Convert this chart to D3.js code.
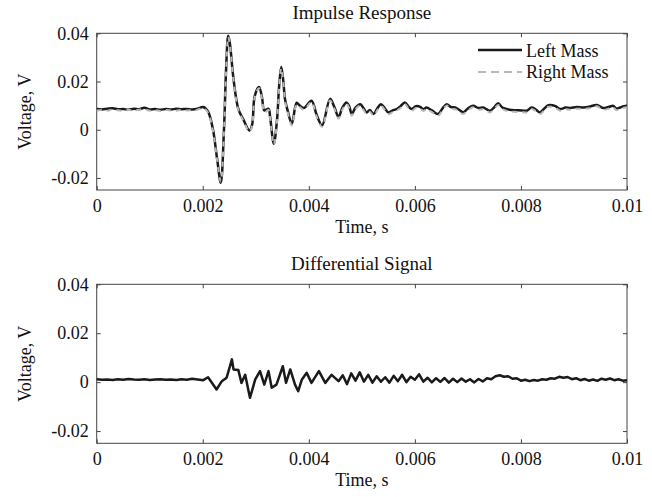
<!DOCTYPE html>
<html>
<head>
<meta charset="utf-8">
<script src="https://cdn.jsdelivr.net/npm/d3@7"></script>
<style>
  body { margin: 0; background: #fff; }
  svg text { font-family: "Liberation Serif", "Times New Roman", serif; fill: #111; }
</style>
</head>
<body>
<div class="chart"></div>
<script>
// time axis values, seconds
const timeTop = [
  0, 0.0001, 0.0002, 0.0003, 0.0004, 0.0005, 0.0006, 0.0007, 0.0008, 0.0009,
  0.001, 0.0011, 0.0012, 0.0013, 0.0014, 0.0015, 0.0016, 0.0017, 0.0018, 0.0019,
  0.00201, 0.0021, 0.00219, 0.00227, 0.00234, 0.0024, 0.00244, 0.00248, 0.00251, 0.00258,
  0.00267, 0.00276, 0.00288, 0.00293, 0.00298, 0.00306, 0.00312, 0.00316, 0.00324, 0.00327,
  0.00334, 0.0034, 0.00344, 0.00348, 0.00352, 0.00355, 0.0036, 0.00368, 0.00377, 0.00383,
  0.00391, 0.00405, 0.00415, 0.00425,
  0.0044, 0.00448, 0.00456, 0.00463, 0.00471, 0.00476, 0.00481, 0.00488, 0.00497, 0.00503,
  0.00509, 0.00515, 0.00522, 0.00529, 0.00536, 0.00543, 0.0055, 0.00558, 0.00566, 0.00573,
  0.00581, 0.00588, 0.00594, 0.00602, 0.0061, 0.00616, 0.00622, 0.00632, 0.00644, 0.00652,
  0.0066, 0.00668, 0.00676, 0.00684, 0.00691, 0.007, 0.0071, 0.0072, 0.00729, 0.00736,
  0.00742, 0.0075, 0.00757, 0.00765, 0.00773, 0.00782, 0.00792, 0.00802, 0.00811, 0.0082,
  0.00828, 0.00836, 0.00844, 0.00852, 0.00864, 0.00874, 0.00884, 0.00893, 0.00905, 0.00918,
  0.0093, 0.00943, 0.00955, 0.00965, 0.00974, 0.0098, 0.00987, 0.00994, 0.01
];
const leftMass = [
  0.0086, 0.0084, 0.0087, 0.0089, 0.0085, 0.0086, 0.0083, 0.0087, 0.0085, 0.0091,
  0.0084, 0.0086, 0.0083, 0.0086, 0.0084, 0.0087, 0.0085, 0.0086, 0.0084, 0.0087,
  0.0094, 0.0075, 0.0004, -0.012, -0.022, 0.0, 0.025, 0.039, 0.036, 0.021,
  0.0087, 0.0045, -0.0003, 0.002, 0.014, 0.0177, 0.013, 0.008, 0.0087, 0.0053,
  -0.0058, 0.004, 0.018, 0.026, 0.02, 0.0128, 0.008, 0.0025, 0.0112, 0.010,
  0.009, 0.012, 0.006, 0.0018,
  0.0128, 0.0095, 0.0053, 0.0090, 0.0113, 0.0098, 0.0065, 0.0092, 0.0106, 0.0090,
  0.0072, 0.0082, 0.0065, 0.0088, 0.0106, 0.0090, 0.0072, 0.0080, 0.0086, 0.0098,
  0.0113, 0.0096, 0.0086, 0.0098, 0.0095, 0.0085, 0.0092, 0.0080, 0.0065, 0.0088,
  0.0106, 0.0094, 0.0092, 0.0082, 0.0072, 0.0088, 0.0099, 0.0090, 0.0092, 0.0084,
  0.0079, 0.0094, 0.0110, 0.0092, 0.0086, 0.0082, 0.0081, 0.0080, 0.0079, 0.0092,
  0.0084, 0.0072, 0.0088, 0.0102, 0.0099, 0.0086, 0.0092, 0.0090, 0.0094, 0.0092,
  0.0096, 0.0103, 0.0090, 0.0094, 0.0099, 0.0088, 0.0092, 0.0098, 0.0099
];
const rightMass = [
  0.0080, 0.0082, 0.0079, 0.0084, 0.0081, 0.0078, 0.0082, 0.0080, 0.0083, 0.0085,
  0.0079, 0.0081, 0.0078, 0.0082, 0.0080, 0.0079, 0.0082, 0.0080, 0.0081, 0.0083,
  0.0090, 0.0070, -0.0002, -0.0125, -0.0215, -0.0005, 0.024, 0.0385, 0.0355, 0.0205,
  0.0082, 0.0040, -0.0008, 0.0015, 0.0135, 0.0172, 0.0125, 0.0072, 0.0082, 0.0047,
  -0.0062, 0.0035, 0.0172, 0.0255, 0.0195, 0.0122, 0.0074, 0.0018, 0.0106, 0.0094,
  0.0083, 0.0115, 0.0053, 0.0012,
  0.0121, 0.0088, 0.0046, 0.0082, 0.0107, 0.0090, 0.0058, 0.0085, 0.0100, 0.0082,
  0.0065, 0.0075, 0.0058, 0.0080, 0.0099, 0.0083, 0.0064, 0.0073, 0.0080, 0.0090,
  0.0106, 0.0089, 0.0079, 0.0090, 0.0088, 0.0078, 0.0085, 0.0073, 0.0058, 0.0081,
  0.0100, 0.0087, 0.0085, 0.0075, 0.0065, 0.0080, 0.0093, 0.0083, 0.0085, 0.0077,
  0.0072, 0.0087, 0.0103, 0.0085, 0.0079, 0.0075, 0.0074, 0.0073, 0.0072, 0.0086,
  0.0077, 0.0065, 0.0081, 0.0095, 0.0092, 0.0079, 0.0085, 0.0083, 0.0087, 0.0086,
  0.0089, 0.0097, 0.0083, 0.0087, 0.0093, 0.0081, 0.0086, 0.0091, 0.0093
];

const timeDiff = [
  0, 0.0001, 0.0002, 0.0003, 0.0004, 0.0005, 0.0006, 0.0007, 0.0008, 0.0009,
  0.001, 0.0011, 0.0012, 0.0013, 0.0014, 0.0015, 0.0016, 0.0017,
  0.0018, 0.00201, 0.0021, 0.00226, 0.00236, 0.00245, 0.00255, 0.00258, 0.00267, 0.00273,
  0.0028, 0.00289, 0.00299, 0.00308, 0.00316, 0.00324, 0.0033, 0.00339, 0.00351, 0.00357,
  0.00365, 0.00374, 0.0038, 0.00387, 0.00396, 0.00405, 0.00419, 0.00431, 0.00443,
  0.00456, 0.00464, 0.00472, 0.0048, 0.00488, 0.00496, 0.00504, 0.00512, 0.0052, 0.00528,
  0.00536, 0.00544, 0.00552, 0.0056, 0.00568, 0.00576, 0.00584, 0.00592, 0.006, 0.00608,
  0.00616, 0.00624, 0.00632, 0.0064, 0.00648, 0.00656, 0.00664, 0.00672, 0.0068, 0.00688,
  0.00696, 0.00704, 0.00712, 0.0072, 0.00728, 0.00736, 0.00744, 0.00752, 0.0076, 0.00768,
  0.00776, 0.00784, 0.00792, 0.008, 0.00808, 0.00816, 0.00824, 0.00832, 0.0084, 0.00848,
  0.00856, 0.00864, 0.00872, 0.0088, 0.00888, 0.00896, 0.00904, 0.00912, 0.0092, 0.00928,
  0.00936, 0.00944, 0.00952, 0.0096, 0.00968, 0.00976, 0.00984, 0.00992, 0.01
];
const diffSignal = [
  0.0012, 0.0010, 0.0011, 0.0009, 0.0012, 0.0010, 0.0013, 0.0011, 0.0010, 0.0012,
  0.0009, 0.0011, 0.0012, 0.0010, 0.0011, 0.0009, 0.0012, 0.0010,
  0.0014, 0.0008, 0.002, -0.003, 0.0004, 0.0018, 0.0093, 0.0052, 0.005, -0.0003,
  0.003, -0.0064, 0.0011, 0.0045, -0.001, 0.0045, -0.0023, -0.001, 0.0065, -0.0003,
  0.0052, -0.001, -0.0037, 0.0011, 0.0038, -0.0003, 0.0045, -0.0003, 0.003,
  0.0004, 0.0028, -0.0008, 0.0036, 0.0006, 0.0040, 0.0002, 0.0030, -0.0002, 0.0024,
  0.0002, 0.0020, -0.0002, 0.0026, 0.0004, 0.0030, 0.0000, 0.0022, 0.0010, 0.0032,
  0.0002, 0.0018, -0.0001, 0.0016, 0.0001, 0.0017, -0.0002, 0.0014, 0.0000, 0.0015,
  0.0002, 0.0012, -0.0001, 0.0013, 0.0003, 0.0016, 0.0012, 0.0024, 0.0028, 0.0022,
  0.0024, 0.0014, 0.0016, 0.0006, 0.0010, 0.0004, 0.0009, 0.0006, 0.0012, 0.0010,
  0.0016, 0.0014, 0.0022, 0.0018, 0.0021, 0.0012, 0.0016, 0.0008, 0.0013, 0.0006,
  0.0011, 0.0005, 0.0014, 0.0010, 0.0015, 0.0008, 0.0012, 0.0006, 0.0008
];

const xTicks = [0, 0.002, 0.004, 0.006, 0.008, 0.01];
const xTickLabels = ['0', '0.002', '0.004', '0.006', '0.008', '0.01'];
const yTicks = [-0.02, 0, 0.02, 0.04];
const yTickLabels = ['-0.02', '0', '0.02', '0.04'];

const width = 652;
const height = 497;
const plotLeft = 96.7;
const plotRight = 627;

const svg = d3.select('.chart')
  .append('svg')
  .attr('width', width)
  .attr('height', height);

const x = d3.scaleLinear().domain([0, 0.01]).range([plotLeft, plotRight]);

const drawPanel = (top, bottom, title) => {
  const y = d3.scaleLinear().domain([-0.025, 0.04]).range([bottom, top]);
  const g = svg.append('g');

  const xBottom = d3.axisBottom(x).tickValues(xTicks)
    .tickFormat((d, i) => xTickLabels[i]).tickSize(-4).tickPadding(9);
  const xTop = d3.axisTop(x).tickValues(xTicks).tickFormat('').tickSize(-4);
  const yLeft = d3.axisLeft(y).tickValues(yTicks)
    .tickFormat((d, i) => yTickLabels[i]).tickSize(-4).tickPadding(8);
  const yRight = d3.axisRight(y).tickValues(yTicks).tickFormat('').tickSize(-4);

  const axes = [
    g.append('g').attr('transform', `translate(0, ${bottom})`).call(xBottom),
    g.append('g').attr('transform', `translate(0, ${top})`).call(xTop),
    g.append('g').attr('transform', `translate(${plotLeft}, 0)`).call(yLeft),
    g.append('g').attr('transform', `translate(${plotRight}, 0)`).call(yRight)
  ];
  axes.forEach(a => {
    a.select('.domain').remove();
    a.selectAll('.tick line').attr('stroke', '#444');
    a.selectAll('text')
      .style('font-family', '"Liberation Serif", serif')
      .style('font-size', '18px')
      .attr('fill', '#111');
  });

  g.append('rect')
    .attr('x', plotLeft)
    .attr('y', top)
    .attr('width', plotRight - plotLeft)
    .attr('height', bottom - top)
    .attr('fill', 'none')
    .attr('stroke', '#444')
    .attr('stroke-width', 1);

  g.append('text')
    .attr('x', (plotLeft + plotRight) / 2)
    .attr('y', top - 14)
    .attr('text-anchor', 'middle')
    .style('font-size', '19px')
    .text(title);

  g.append('text')
    .attr('x', (plotLeft + plotRight) / 2)
    .attr('y', bottom + 43)
    .attr('text-anchor', 'middle')
    .style('font-size', '18px')
    .text('Time, s');

  g.append('text')
    .attr('transform', `translate(31, ${(top + bottom) / 2}) rotate(-90)`)
    .attr('text-anchor', 'middle')
    .style('font-size', '18px')
    .text('Voltage, V');

  return { g, y };
};

// Impulse response panel
const topPanel = drawPanel(33.3, 190, 'Impulse Response');

const lineTop = d3.line()
  .x((d, i) => x(timeTop[i]))
  .y(d => topPanel.y(d))
  .curve(d3.curveCatmullRom.alpha(0.5));

topPanel.g.append('path')
  .datum(leftMass)
  .attr('fill', 'none')
  .attr('stroke', '#1a1a1a')
  .attr('stroke-width', 2.5)
  .attr('stroke-linejoin', 'round')
  .attr('d', lineTop);

topPanel.g.append('path')
  .datum(rightMass)
  .attr('fill', 'none')
  .attr('stroke', '#b8b8b8')
  .attr('stroke-width', 2)
  .attr('stroke-dasharray', '5,5')
  .attr('d', lineTop);

// legend
const legend = topPanel.g.append('g');
legend.append('line')
  .attr('x1', 478).attr('x2', 522).attr('y1', 50).attr('y2', 50)
  .attr('stroke', '#1a1a1a').attr('stroke-width', 2.5);
legend.append('line')
  .attr('x1', 478).attr('x2', 522).attr('y1', 72).attr('y2', 72)
  .attr('stroke', '#b8b8b8').attr('stroke-width', 2)
  .attr('stroke-dasharray', '8,5');
legend.append('text').attr('x', 526).attr('y', 57)
  .style('font-size', '18px').text('Left Mass');
legend.append('text').attr('x', 526).attr('y', 78)
  .style('font-size', '18px').text('Right Mass');

// Differential signal panel
const bottomPanel = drawPanel(284.3, 443.3, 'Differential Signal');

const lineDiff = d3.line()
  .x((d, i) => x(timeDiff[i]))
  .y(d => bottomPanel.y(d));

bottomPanel.g.append('path')
  .datum(diffSignal)
  .attr('fill', 'none')
  .attr('stroke', '#1a1a1a')
  .attr('stroke-width', 2.5)
  .attr('stroke-linejoin', 'round')
  .attr('d', lineDiff);
</script>
</body>
</html>
